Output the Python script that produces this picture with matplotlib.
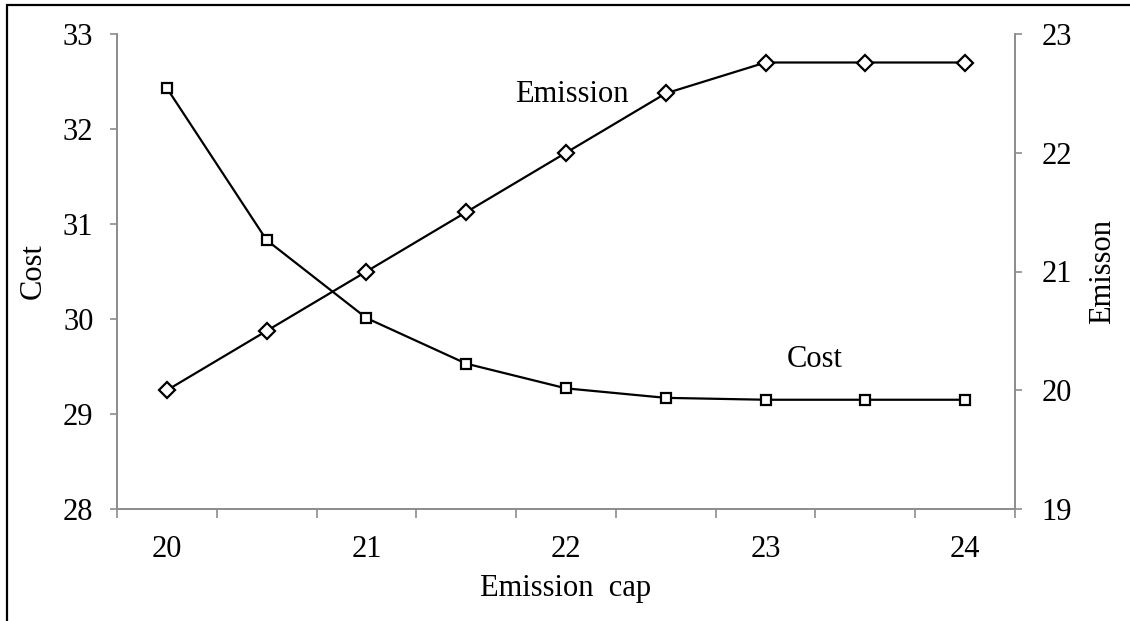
import matplotlib
matplotlib.use('Agg')
import matplotlib.pyplot as plt
from matplotlib.patches import Rectangle

# 데이터
caps = [20, 20.5, 21, 21.5, 22, 22.5, 23, 23.5, 24]
cost = [32.43, 30.83, 30.01, 29.53, 29.27, 29.17, 29.15, 29.15, 29.15]
emission = [20.0, 20.5, 21.0, 21.5, 22.0, 22.5, 22.76, 22.76, 22.76]
cap_labels = ['20', '21', '22', '23', '24']

plt.rcParams['font.family'] = ['Liberation Serif', 'DejaVu Serif']
FS = 22
GRAY = '#8c8c8c'

W, H = 1130, 621
fig = plt.figure(figsize=(W / 100, H / 100), dpi=100)

# 바깥 테두리 (오른쪽/아래는 그림 밖으로)
fig.patches.append(Rectangle((7 / W, -0.1), 1.2, 1 - 5 / H + 0.1, transform=fig.transFigure,
                             fill=False, edgecolor='black', linewidth=1.6))

left, right, top, bottom = 117, 1015, 34, 509
ax = fig.add_axes([left / W, 1 - bottom / H, (right - left) / W, (bottom - top) / H])
ax2 = ax.twinx()

idx = list(range(len(caps)))

ax.plot(idx, cost, color='black', lw=1.6, marker='s', ms=7.5,
        mfc='white', mec='black', mew=1.6, zorder=3)
ax2.plot(idx, emission, color='black', lw=1.6, marker='D', ms=8.5,
         mfc='white', mec='black', mew=1.6, zorder=3)

ax.set_xlim(-0.5, len(caps) - 0.5)
ax.set_ylim(28, 33)
ax2.set_ylim(19, 23)
ax.set_yticks(range(28, 34))
ax2.set_yticks(range(19, 24))

# x축: 범주 경계에 눈금, 라벨은 1단위마다
ax.set_xticks([i - 0.5 for i in range(len(caps) + 1)])
ax.set_xticklabels([])
ax.set_xticks(idx[::2], minor=True)
ax.set_xticklabels(cap_labels, minor=True, fontsize=FS)
ax.tick_params(axis='x', which='major', direction='out', length=6.5, width=1.2, color=GRAY)
ax.tick_params(axis='x', which='minor', length=0, pad=19)

ax.tick_params(axis='y', direction='out', length=5, width=1.2, color=GRAY, labelsize=FS, pad=12)
ax2.tick_params(axis='y', direction='out', length=5, width=1.2, color=GRAY, labelsize=FS, pad=14)

for a in (ax, ax2):
    a.spines['top'].set_visible(False)
    for s in ('left', 'right', 'bottom'):
        a.spines[s].set_color(GRAY)
        a.spines[s].set_linewidth(1.2)

ax.set_ylabel('Cost', fontsize=FS)
ax.yaxis.set_label_coords((48 - left) / (right - left), 0.5)
ax2.set_ylabel('Emisson', fontsize=FS)
ax2.yaxis.set_label_coords((1088 - left) / (right - left), 0.5)
ax.set_xlabel('Emission  cap', fontsize=FS)
ax.xaxis.set_label_coords(0.5, (bottom - 574) / (bottom - top))

ax.text(4.06, 32.36, 'Emission', fontsize=FS, ha='center', va='center')
ax.text(6.49, 29.57, 'Cost', fontsize=FS, ha='center', va='center')

fig.savefig('out.png', dpi=100)
